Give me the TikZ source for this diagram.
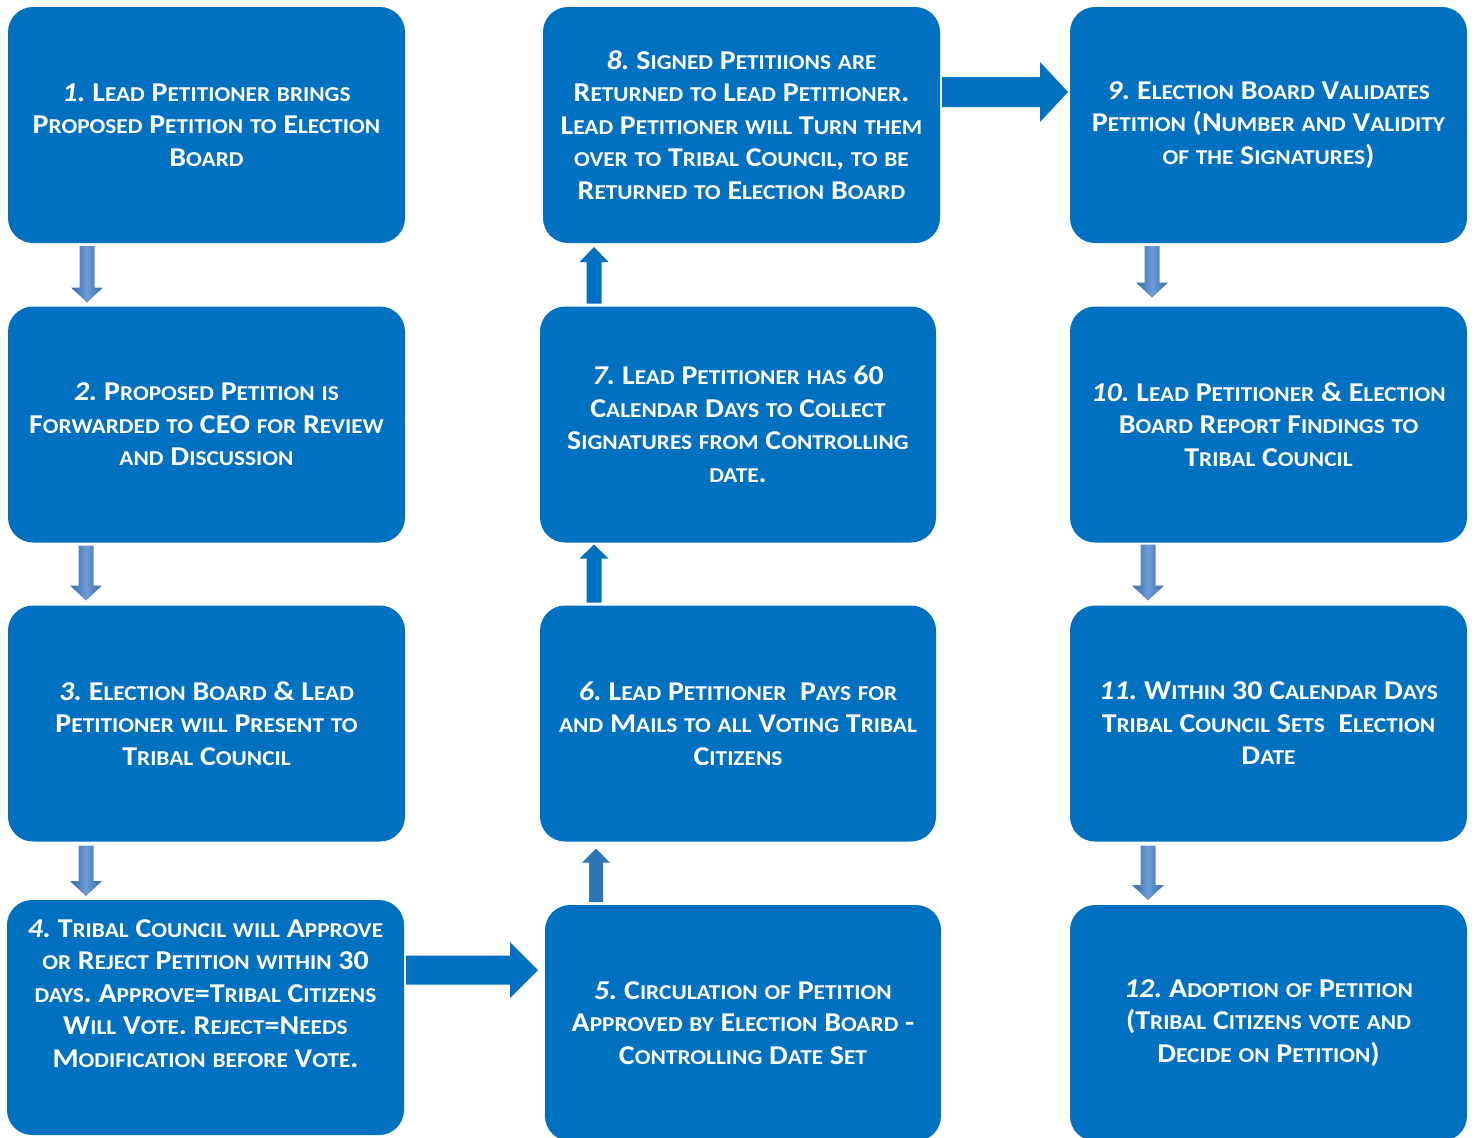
\documentclass[tikz,border=0pt]{standalone}
\usepackage{fontspec}
\setmainfont{Carlito}[FakeStretch=1.1]
\usetikzlibrary{calc}
\definecolor{boxblue}{HTML}{0070C0}
\definecolor{upblue}{HTML}{2E75B6}
\definecolor{dnedge}{HTML}{3A6AAB}
\definecolor{dnmid}{HTML}{6A9BD6}
\newcommand\boxfont{\fontsize{13.6}{16.25}\selectfont\bfseries\frenchspacing}
\newcommand\stepno[1]{\textit{#1}}
\ExplSyntaxOn
\tl_new:N \l__fsc_tl
\cs_new_protected:Npn \fscsmall { \fontsize{10.6}{16.25}\selectfont }
\cs_new_protected:Npn \__fsc_item:n #1
 {
  \tl_if_single_token:nTF {#1}
   {
    \token_if_letter:NTF #1
     {
      \bool_lazy_and:nnTF { \int_compare_p:nNn {`#1} > {96} } { \int_compare_p:nNn {`#1} < {123} }
       { { \fscsmall \text_uppercase:n {#1} } }
       { #1 }
     }
     { #1 }
   }
   { #1 }
 }
\NewDocumentCommand \fsc { m }
 {
  \tl_set:Nn \l__fsc_tl {#1}
  \tl_replace_all:Nnn \l__fsc_tl {~} { \c_space_tl }
  \tl_map_function:NN \l__fsc_tl \__fsc_item:n
 }
\ExplSyntaxOff
% block arrows: #1 start, #2 end (tip)
\newcommand\rblock[6]{% start, end, shaft half, head half, head length, colour
  \fill[#6] ($(#1)+(0,-#3)$) -- ($(#2)+(-#5,-#3)$) -- ($(#2)+(-#5,-#4)$) -- (#2)
    -- ($(#2)+(-#5,#4)$) -- ($(#2)+(-#5,#3)$) -- ($(#1)+(0,#3)$) -- cycle;}
\newcommand\ublock[6]{%
  \fill[#6] ($(#1)+(-#3,0)$) -- ($(#2)+(-#3,#5)$) -- ($(#2)+(-#4,#5)$) -- (#2)
    -- ($(#2)+(#4,#5)$) -- ($(#2)+(#3,#5)$) -- ($(#1)+(#3,0)$) -- cycle;}
\newcommand\dblock[2]{%
  \shade[left color=dnedge, right color=dnedge, middle color=dnmid]
    ($(#1)+(-7.5,0)$) -- ($(#2)+(-7.5,-15)$) -- ($(#2)+(-16,-15)$) -- (#2)
    -- ($(#2)+(16,-15)$) -- ($(#2)+(7.5,-15)$) -- ($(#1)+(7.5,0)$) -- cycle;}
\tikzset{
  box/.style={fill=boxblue, rounded corners=12.5pt, minimum width=198.5pt,
    minimum height=118pt, inner sep=0pt, outer sep=0pt, text=white,
    align=center, font=\boxfont},
  boxtext/.style={inner sep=0pt, outer sep=0pt, text=white, align=center, font=\boxfont},
}
\begin{document}
\begin{tikzpicture}[x=0.5pt,y=-0.5pt]
\useasboundingbox (0,0) rectangle (1476,1137);
\clip (0,0) rectangle (1476,1137);
% column 1
\node[box] (b1) at (206.5,125) {\stepno{1.} \fsc{Lead Petitioner brings}\\\fsc{Proposed Petition to Election}\\\fsc{Board}};
\node[box] (b2) at (206.5,424.5) {\stepno{2.} \fsc{Proposed Petition is}\\\fsc{Forwarded to CEO for Review}\\\fsc{and Discussion}};
\node[box] (b3) at (206.5,723.5) {\stepno{3.} \fsc{Election Board \& Lead}\\\fsc{Petitioner will Present to}\\\fsc{Tribal Council}};
\node[box, minimum height=117.5pt] (b4) at (205.5,1017.5) {};
\node[boxtext] (t4) at ($(b4.center)+(0,-24)$) {\stepno{4.} \fsc{Tribal Council will Approve}\\\fsc{or Reject Petition within 30}\\\fsc{days. Approve=Tribal Citizens}\\\fsc{Will Vote. Reject=Needs}\\\fsc{Modification before Vote.}};
% column 2
\node[box] (b8) at (741.5,125) {\stepno{8.} \fsc{Signed Petitiions are}\\\fsc{Returned to Lead Petitioner.}\\\fsc{Lead Petitioner will Turn them}\\\fsc{over to Tribal Council, to be}\\\fsc{Returned to Election Board}};
\node[box, minimum width=198pt] (b7) at (738,424.5) {\stepno{7.} \fsc{Lead Petitioner has 60}\\\fsc{Calendar Days to Collect}\\\fsc{Signatures from Controlling}\\\fsc{date.}};
\node[box, minimum width=198pt] (b6) at (738,723.5) {\stepno{6.} \fsc{Lead Petitioner\ \ Pays for}\\\fsc{and Mails to all Voting Tribal}\\\fsc{Citizens}};
\node[box, minimum width=198pt] (b5) at (743,1023) {\stepno{5.} \fsc{Circulation of Petition}\\\fsc{Approved by Election Board -}\\\fsc{Controlling Date Set}};
% column 3
\node[box] (b9) at (1268.5,125) {\stepno{9.} \fsc{Election Board Validates}\\\fsc{Petition (Number and Validity}\\\fsc{of the Signatures)}};
\node[box] (b10) at (1268.5,424.5) {\stepno{10.} \fsc{Lead Petitioner \& Election}\\\fsc{Board Report Findings to}\\\fsc{Tribal Council}};
\node[box] (b11) at (1268.5,723.5) {\stepno{11.} \fsc{Within 30 Calendar Days}\\\fsc{Tribal Council Sets\ \ Election}\\\fsc{Date}};
\node[box] (b12) at (1268.5,1023) {\stepno{12.} \fsc{Adoption of Petition}\\\fsc{(Tribal Citizens vote and}\\\fsc{Decide on Petition)}};
% arrow end points
\coordinate (a12s) at ($(b1.south west)+(79,3)$);
\coordinate (a12e) at ($(b2.north west)+(79,-4)$);
\coordinate (a23s) at ($(b2.south west)+(78,3)$);
\coordinate (a23e) at ($(b3.north west)+(78,-5)$);
\coordinate (a34s) at ($(b3.south west)+(78,4)$);
\coordinate (a34e) at ($(b4.north west)+(79,-4)$);
\coordinate (a45s) at ($(b4.north east)+(2,70)$);
\coordinate (a45e) at ($(b5.north west)+(-7,65)$);
\coordinate (a56s) at ($(b5.north west)+(51,-3)$);
\coordinate (a56e) at ($(b6.south west)+(56,7)$);
\coordinate (a67s) at ($(b6.north west)+(54,-3)$);
\coordinate (a67e) at ($(b7.south west)+(54,2)$);
\coordinate (a78s) at ($(b7.north west)+(54,-3)$);
\coordinate (a78e) at ($(b8.south west)+(51,4)$);
\coordinate (a89s) at ($(b8.north east)+(2,85)$);
\coordinate (a89e) at ($(b9.north west)+(-2,85)$);
\coordinate (a910s) at ($(b9.south west)+(82,3)$);
\coordinate (a910e) at ($(b10.north west)+(82,-9)$);
\coordinate (a1011s) at ($(b10.south west)+(78,2)$);
\coordinate (a1011e) at ($(b11.north west)+(78,-5)$);
\coordinate (a1112s) at ($(b11.south west)+(78,4)$);
\coordinate (a1112e) at ($(b12.north west)+(78,-5)$);
% arrows
\dblock{a12s}{a12e}
\dblock{a23s}{a23e}
\dblock{a34s}{a34e}
\rblock{a45s}{a45e}{14.5}{28}{28}{boxblue}
\ublock{a56s}{a56e}{7}{14}{14}{upblue}
\ublock{a67s}{a67e}{7.5}{14.5}{14}{boxblue}
\ublock{a78s}{a78e}{7.5}{14.5}{15}{boxblue}
\rblock{a89s}{a89e}{15}{30}{28}{boxblue}
\dblock{a910s}{a910e}
\dblock{a1011s}{a1011e}
\dblock{a1112s}{a1112e}
\end{tikzpicture}
\end{document}
